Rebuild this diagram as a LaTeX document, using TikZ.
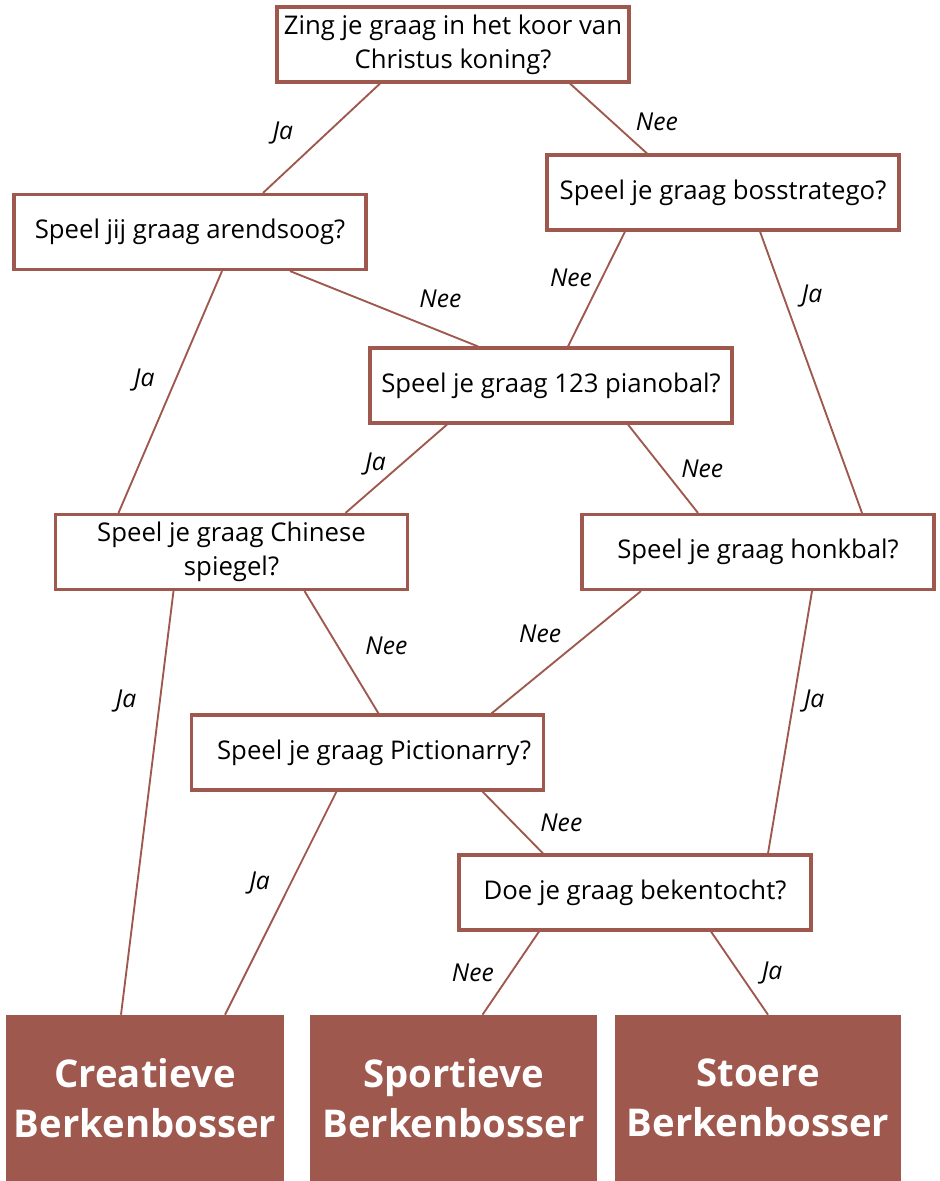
\documentclass[tikz,border=0pt]{standalone}
\usepackage{fontspec}
\setmainfont{Open Sans}
\usetikzlibrary{positioning, calc}
\usepackage{xcolor}
\definecolor{berk}{HTML}{9F584D}

\tikzset{
  vraag/.style={rectangle, draw=berk, line width=2.6pt, fill=white,
    minimum width=264pt, minimum height=56pt, align=center,
    font=\fontsize{19.3}{25.5}\selectfont, inner sep=2pt},
  uitkomst/.style={rectangle, fill=berk, text=white, minimum height=124.5pt,
    align=center, font=\fontsize{28.7}{37.5}\selectfont\bfseries, inner sep=0pt},
  lijn/.style={draw=berk, line width=1.4pt},
  antw/.style={font=\fontsize{18.5}{20}\selectfont\itshape, inner sep=1pt}
}

\begin{document}
\begin{tikzpicture}[x=0.75pt, y=-0.75pt]
\useasboundingbox (0,0) rectangle (939,1181);

% vragen
\node[vraag] (koor) at (453,44.5) {Zing je graag in het koor van\\Christus koning?};
\node[vraag] (arendsoog) at (190,232) {Speel jij graag arendsoog?};
\node[vraag] (bosstratego) at (723,192.5) {Speel je graag bosstratego?};
\node[vraag, minimum width=271.5pt] (pianobal) at (551,385.5) {Speel je graag 123 pianobal?};
\node[vraag] (chinees) at (231.5,552) {Speel je graag Chinese\\spiegel?};
\node[vraag] (honkbal) at (758,552) {Speel je graag honkbal?};
\node[vraag] (pictionary) at (367.5,752.5) {\hspace{10pt}Speel je graag Pictionarry?};
\node[vraag] (bekentocht) at (635,892.5) {Doe je graag bekentocht?};

% uitkomsten
\node[uitkomst, minimum width=208.5pt] (creatief) at (145,1098) {Creatieve\\Berkenbosser};
\node[uitkomst, minimum width=215pt] (sportief) at (453.5,1098) {Sportieve\\Berkenbosser};
\node[uitkomst, minimum width=214.5pt] (stoer) at (758,1098) {Stoere\\Berkenbosser};

% verbindingen
\draw[lijn] ($(koor.south)+(-73,0)$) -- node[antw, pos=.45, left=24pt] {Ja} ($(arendsoog.north)+(73,0)$);
\draw[lijn] ($(koor.south)+(117,0)$) -- node[antw, pos=.55, right=16pt] {Nee} ($(bosstratego.north)+(-76,0)$);
\draw[lijn] ($(arendsoog.south)+(32,0)$) -- node[antw, pos=.45, left=14pt] {Ja} ($(chinees.north)+(-113,0)$);
\draw[lijn] ($(arendsoog.south)+(100,0)$) -- node[antw, pos=.8, above=16pt] {Nee} ($(pianobal.north)+(-73,0)$);
\draw[lijn] ($(bosstratego.south)+(-98,0)$) -- node[antw, pos=.4, left=6pt] {Nee} ($(pianobal.north)+(17,0)$);
\draw[lijn] ($(bosstratego.south)+(37,0)$) -- node[antw, pos=.23, right=12pt] {Ja} ($(honkbal.north)+(104,0)$);
\draw[lijn] ($(pianobal.south)+(-104,0)$) -- node[antw, pos=.45, left=10pt] {Ja} ($(chinees.north)+(114,0)$);
\draw[lijn] ($(pianobal.south)+(77,0)$) -- node[antw, pos=.5, right=12pt] {Nee} ($(honkbal.north)+(-60,0)$);
\draw[lijn] ($(chinees.south)+(-58,0)$) -- node[antw, pos=.26, left=16pt] {Ja} ($(creatief.north)+(-24,0)$);
\draw[lijn] ($(chinees.south)+(73,0)$) -- node[antw, pos=.45, right=19pt] {Nee} ($(pictionary.north)+(11,0)$);
\draw[lijn] ($(honkbal.south)+(-117,0)$) -- node[antw, pos=.35, left=19pt] {Nee} ($(pictionary.north)+(124,0)$);
\draw[lijn] ($(honkbal.south)+(54,0)$) -- node[antw, pos=.42, right=6pt] {Ja} ($(bekentocht.north)+(133,0)$);
\draw[lijn] ($(pictionary.south)+(-31,0)$) -- node[antw, pos=.41, left=14pt] {Ja} ($(creatief.north)+(80,0)$);
\draw[lijn] ($(pictionary.south)+(115,0)$) -- node[antw, pos=.5, right=19pt] {Nee} ($(bekentocht.north)+(-92,0)$);
\draw[lijn] ($(bekentocht.south)+(-96,0)$) -- node[antw, pos=.5, left=11pt] {Nee} ($(sportief.north)+(29,0)$);
\draw[lijn] ($(bekentocht.south)+(76,0)$) -- node[antw, pos=.5, right=15pt] {Ja} ($(stoer.north)+(10,0)$);
\end{tikzpicture}
\end{document}
